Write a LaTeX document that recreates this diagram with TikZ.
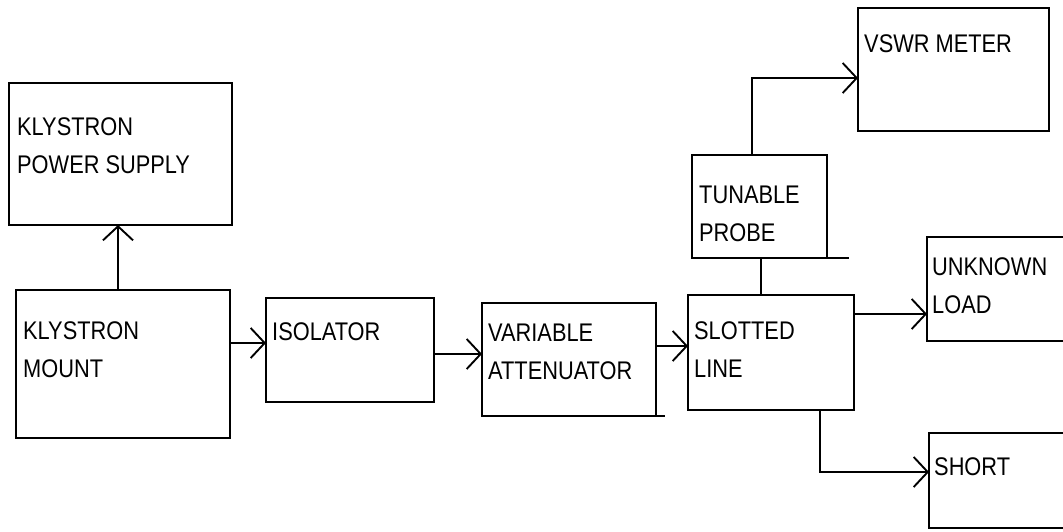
\documentclass[tikz,border=0pt]{standalone}
\usepackage{fontspec}
\setmainfont{Liberation Sans}
\usetikzlibrary{arrows.meta,calc}
\newcommand{\stx}[1]{\scalebox{1}[1.17]{#1}}
\begin{document}
\begin{tikzpicture}[x=1pt,y=-1pt,
  box/.style={draw, line width=1.9pt, inner sep=0pt, outer sep=0pt, anchor=north west},
  lbl/.style={anchor=north west, inner sep=0pt, align=left, font=\fontsize{21.8}{38}\selectfont},
  conn/.style={line width=1.9pt},
  arr/.style={conn, -{Straight Barb[length=14pt,width=30pt]}}]
\path[use as bounding box, clip] (0,0) rectangle (1063,531);
% boxes
\node[box, minimum width=223pt, minimum height=142pt] (kps) at (9,83) {};
\node[box, minimum width=214pt, minimum height=148pt] (km) at (16,290) {};
\node[box, minimum width=168pt, minimum height=104pt] (iso) at (266,298) {};
\node[box, minimum width=174pt, minimum height=113pt] (att) at (482,303) {};
\node[box, minimum width=166pt, minimum height=115pt] (sl) at (688,295) {};
\node[box, minimum width=135pt, minimum height=103pt] (tp) at (692,155) {};
\node[box, minimum width=191pt, minimum height=123pt] (vswr) at (858,8) {};
\node[box, minimum width=160pt, minimum height=104pt] (ul) at (927,237) {};
\node[box, minimum width=160pt, minimum height=95pt] (sh) at (929,433) {};
% labels
\node[lbl] (tkps) at (17,117) {\stx{KLYSTRON}\\\stx{POWER SUPPLY}};
\node[lbl] (tkm) at (23,321) {\stx{KLYSTRON}\\\stx{MOUNT}};
\node[lbl] (tiso) at (272,322) {\stx{ISOLATOR}};
\node[lbl] (tatt) at (488,324) {\stx{VARIABLE}\\\stx{ATTENUATOR}};
\node[lbl] (tsl) at (694,321) {\stx{SLOTTED}\\\stx{LINE}};
\node[lbl] (ttp) at (699,186) {\stx{TUNABLE}\\\stx{PROBE}};
\node[lbl] (tvswr) at (864,34) {\stx{VSWR METER}};
\node[lbl] (tul) at (932,257) {\stx{UNKNOWN}\\\stx{LOAD}};
\node[lbl] (tsh) at (934,457) {\stx{SHORT}};
% connectors
\coordinate (a1) at ($(km.north)+(-5,0)$);
\draw[arr] (a1) -- (a1 |- kps.south);
\draw[arr] (km.east |- 0,343) -- (iso.west |- 0,343);
\draw[arr] (iso.east |- 0,354) -- (att.west |- 0,354);
\draw[arr] (att.east |- 0,346) -- (sl.west |- 0,346);
\draw[conn] (sl.north -| 761,0) -- (tp.south -| 761,0);
\draw[arr] (tp.north -| 752,0) |- (vswr.west |- 0,78);
\draw[arr] (sl.east |- 0,314) -- (ul.west |- 0,314);
\draw[arr] (sl.south -| 820,0) |- (sh.west |- 0,472);
% extended bottom edges
\draw[conn] (att.south east) -- ++(9,0);
\draw[conn] (tp.south east) -- ++(22,0);
\end{tikzpicture}
\end{document}
